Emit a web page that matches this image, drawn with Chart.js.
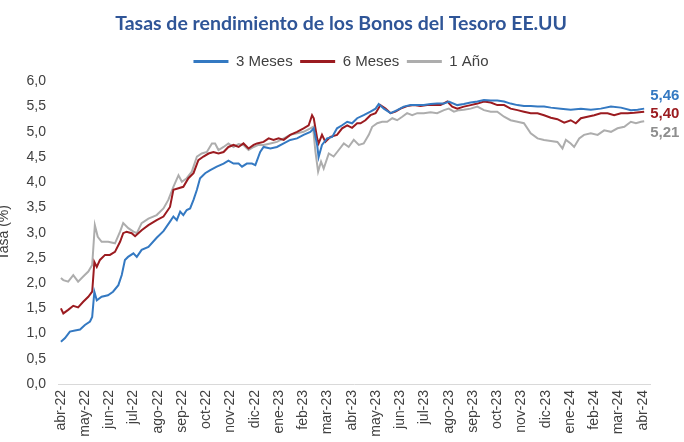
<!DOCTYPE html>
<html>
<head>
<meta charset="utf-8">
<script src="https://cdn.jsdelivr.net/npm/chart.js@4/dist/chart.umd.min.js"></script>
<style>
  html, body { margin: 0; padding: 0; background: #ffffff; overflow: hidden; }
  #wrap { width: 684px; height: 442px; }
</style>
</head>
<body>
<div id="wrap"><canvas id="c" width="684" height="442"></canvas></div>
<script>
// Month tick labels (x = months since 1 Apr 2022)
const monthLabels = ['abr-22','may-22','jun-22','jul-22','ago-22','sep-22','oct-22','nov-22','dic-22',
  'ene-23','feb-23','mar-23','abr-23','may-23','jun-23','jul-23','ago-23','sep-23','oct-23','nov-23',
  'dic-23','ene-24','feb-24','mar-24','abr-24'];
const seriesNames = ['3 Meses', '6 Meses', '1 Año'];

// 3 Meses
const t3 = [0.00,0.17,0.37,0.58,0.79,0.99,1.20,1.29,1.38,1.48,1.68,1.94,2.15,2.37,2.51,2.64,2.77,2.99,3.13,3.33,
  3.61,3.95,4.23,4.50,4.64,4.78,4.92,5.05,5.19,5.33,5.47,5.61,5.74,5.95,6.16,6.43,6.71,6.91,7.12,7.33,
  7.47,7.67,7.88,8.02,8.22,8.36,8.64,8.91,9.19,9.46,9.74,10.01,10.29,10.43,10.57,10.63,10.77,10.98,11.19,11.39,
  11.60,11.81,12.01,12.22,12.49,12.77,12.98,13.11,13.32,13.60,13.87,14.14,14.42,14.70,14.97,15.25,15.52,15.80,16.00,16.35,
  16.62,16.90,17.18,17.45,17.73,18.00,18.28,18.55,18.83,19.10,19.38,19.66,19.93,20.21,20.62,21.03,21.45,21.86,22.27,22.69,
  23.10,23.51,23.79,24.06];
const v3 = [0.84,0.91,1.04,1.06,1.08,1.17,1.24,1.33,1.83,1.66,1.73,1.76,1.83,1.96,2.16,2.46,2.52,2.59,2.52,2.66,
  2.72,2.90,3.03,3.22,3.32,3.25,3.42,3.35,3.45,3.48,3.65,3.85,4.08,4.18,4.24,4.31,4.37,4.43,4.37,4.37,
  4.31,4.37,4.37,4.34,4.60,4.70,4.67,4.70,4.77,4.84,4.87,4.94,5.00,5.07,4.74,4.50,4.74,4.87,4.90,5.07,
  5.13,5.20,5.17,5.27,5.33,5.40,5.46,5.55,5.46,5.37,5.43,5.50,5.53,5.53,5.53,5.55,5.56,5.56,5.60,5.53,
  5.55,5.58,5.60,5.63,5.62,5.62,5.60,5.56,5.53,5.51,5.51,5.50,5.50,5.48,5.46,5.44,5.46,5.44,5.46,5.50,
  5.48,5.43,5.44,5.46];

// 6 Meses
const t6 = [0.00,0.10,0.30,0.51,0.71,0.92,1.13,1.29,1.38,1.48,1.61,1.82,2.02,2.23,2.44,2.57,2.71,2.92,3.06,3.33,
  3.61,3.95,4.23,4.50,4.64,4.85,5.05,5.26,5.47,5.67,5.88,6.09,6.29,6.50,6.71,6.91,7.12,7.33,7.53,7.74,
  7.95,8.09,8.36,8.57,8.77,8.98,9.19,9.46,9.74,10.01,10.22,10.36,10.43,10.57,10.63,10.77,10.91,11.12,11.39,11.60,
  11.81,12.01,12.22,12.36,12.56,12.77,12.98,13.18,13.39,13.60,13.80,14.01,14.28,14.56,14.83,15.11,15.38,15.66,15.94,16.14,
  16.35,16.62,16.90,17.18,17.45,17.73,18.00,18.28,18.55,18.83,19.10,19.38,19.66,19.93,20.21,20.48,20.76,21.03,21.24,21.45,
  21.72,22.00,22.27,22.55,22.82,23.10,23.38,23.65,24.06];
const v6 = [1.50,1.40,1.47,1.55,1.52,1.63,1.73,1.83,2.42,2.32,2.46,2.56,2.56,2.62,2.82,2.99,3.02,2.99,2.93,3.05,
  3.15,3.25,3.32,3.51,3.85,3.88,3.91,4.08,4.18,4.44,4.51,4.57,4.60,4.57,4.60,4.70,4.74,4.70,4.77,4.67,
  4.74,4.77,4.80,4.87,4.84,4.87,4.84,4.94,5.00,5.07,5.13,5.33,5.27,4.87,4.77,4.94,4.80,4.90,4.94,5.07,
  5.13,5.08,5.17,5.17,5.23,5.33,5.37,5.53,5.46,5.37,5.40,5.46,5.51,5.53,5.51,5.53,5.53,5.53,5.60,5.50,
  5.46,5.50,5.53,5.56,5.60,5.58,5.53,5.53,5.46,5.43,5.40,5.37,5.37,5.33,5.28,5.25,5.18,5.23,5.17,5.27,
  5.30,5.33,5.37,5.37,5.33,5.37,5.37,5.38,5.40];

// 1 Año
const t1 = [0.00,0.10,0.30,0.51,0.71,0.92,1.13,1.29,1.40,1.52,1.68,1.95,2.23,2.44,2.57,2.78,2.99,3.13,3.33,3.61,
  3.95,4.23,4.43,4.64,4.85,4.99,5.19,5.40,5.61,5.81,6.02,6.23,6.36,6.50,6.71,6.91,7.12,7.33,7.53,7.74,
  7.95,8.15,8.36,8.64,8.91,9.19,9.46,9.74,10.01,10.29,10.40,10.50,10.61,10.73,10.84,11.05,11.25,11.46,11.67,11.87,
  12.08,12.29,12.49,12.70,12.84,13.05,13.25,13.46,13.67,13.87,14.08,14.28,14.49,14.70,14.97,15.25,15.52,15.80,16.00,16.21,
  16.42,16.62,16.90,17.18,17.45,17.73,18.00,18.28,18.55,18.83,19.10,19.38,19.66,19.93,20.21,20.48,20.69,20.83,21.03,21.17,
  21.38,21.58,21.86,22.14,22.41,22.69,22.96,23.24,23.51,23.72,23.93,24.06];
const v1 = [2.10,2.06,2.03,2.16,2.03,2.13,2.23,2.36,3.15,2.92,2.82,2.82,2.79,3.02,3.19,3.09,3.02,2.99,3.19,3.28,
  3.35,3.48,3.65,3.91,4.14,4.01,4.08,4.21,4.51,4.57,4.60,4.77,4.77,4.64,4.70,4.77,4.70,4.76,4.74,4.64,
  4.70,4.74,4.74,4.77,4.80,4.87,4.94,4.97,5.00,5.07,5.10,4.60,4.21,4.41,4.27,4.57,4.51,4.64,4.77,4.70,
  4.84,4.74,4.77,4.94,5.10,5.17,5.20,5.20,5.27,5.23,5.30,5.37,5.33,5.37,5.37,5.39,5.37,5.43,5.46,5.40,
  5.43,5.44,5.46,5.50,5.43,5.40,5.40,5.30,5.23,5.20,5.17,4.97,4.87,4.84,4.82,4.80,4.67,4.84,4.77,4.70,
  4.87,4.94,4.97,4.94,5.03,5.00,5.07,5.10,5.20,5.17,5.20,5.21];

const colors = ['#3479C2', '#9B1B20', '#ADADAD'];
const labelColors = ['#3479C2', '#9B1B20', '#8E8E8E'];
const endLabelOffsets = [-13, 2, 12];
const yTitleText = 'Tasa (%)';

const toPoints = (t, v) => t.map((x, i) => ({ x: x, y: v[i] }));
const fmt = v => v.toFixed(2).replace('.', ',');
const fontFam = '"Liberation Sans", Arial, sans-serif';

const endLabels = {
  id: 'endLabels',
  afterDatasetsDraw(chart) {
    const ctx = chart.ctx;
    ctx.save();
    ctx.font = 'bold 15px ' + fontFam;
    ctx.textAlign = 'left';
    ctx.textBaseline = 'middle';
    chart.data.datasets.forEach((ds, i) => {
      const meta = chart.getDatasetMeta(i);
      const pt = meta.data[meta.data.length - 1];
      const last = ds.data[ds.data.length - 1].y;
      ctx.fillStyle = labelColors[i];
      ctx.fillText(fmt(last), pt.x + 6, pt.y + endLabelOffsets[i]);
    });
    ctx.restore();
  }
};

const yTitle = {
  id: 'yTitle',
  afterDraw(chart) {
    const ctx = chart.ctx;
    const a = chart.chartArea;
    ctx.save();
    ctx.translate(4, (a.top + a.bottom) / 2);
    ctx.rotate(-Math.PI / 2);
    ctx.font = '14px ' + fontFam;
    ctx.fillStyle = '#404040';
    ctx.textAlign = 'center';
    ctx.textBaseline = 'middle';
    ctx.fillText(yTitleText, 0, 0);
    ctx.restore();
  }
};

// nudge title and legend (centre them like the original, legend slightly up)
const headerShift = {
  id: 'headerShift',
  afterLayout(chart) {
    [chart.titleBlock, chart.legend].forEach(b => { if (b) { b.left += 16; b.right += 16; } });
    if (chart.legend) { chart.legend.top -= 2.5; chart.legend.bottom -= 2.5; }
  }
};

new Chart(document.getElementById('c'), {
  type: 'line',
  data: {
    datasets: [
      { label: seriesNames[0], data: toPoints(t3, v3), borderColor: colors[0], backgroundColor: colors[0] },
      { label: seriesNames[1], data: toPoints(t6, v6), borderColor: colors[1], backgroundColor: colors[1] },
      { label: seriesNames[2], data: toPoints(t1, v1), borderColor: colors[2], backgroundColor: colors[2] }
    ]
  },
  options: {
    responsive: false,
    animation: false,
    devicePixelRatio: 1,
    layout: { padding: { left: 0, right: 34, top: 1, bottom: 0 } },
    elements: {
      line: { borderWidth: 2, tension: 0 },
      point: { radius: 0, hoverRadius: 0 }
    },
    plugins: {
      title: {
        display: true,
        text: 'Tasas de rendimiento de los Bonos del Tesoro EE.UU',
        color: '#2F5597',
        font: { family: 'Lato, "Open Sans", sans-serif', size: 19.5, weight: 'bold' },
        padding: { top: 11, bottom: 13.5 }
      },
      legend: {
        display: true,
        labels: {
          usePointStyle: true,
          pointStyle: 'line',
          pointStyleWidth: 35,
          color: '#404040',
          font: { family: fontFam, size: 15 },
          padding: 7.5,
          generateLabels: chart => Chart.defaults.plugins.legend.labels.generateLabels(chart)
            .map(l => Object.assign(l, { lineWidth: 3 }))
        }
      },
      tooltip: { enabled: false }
    },
    scales: {
      x: {
        type: 'linear',
        min: -0.12,
        max: 24.3,
        afterFit: s => { s.height = 58; },
        afterBuildTicks: s => { s.ticks = monthLabels.map((_, i) => ({ value: i })); },
        grid: { display: false, drawTicks: false },
        border: { display: true, color: '#D9D9D9', width: 1 },
        ticks: {
          autoSkip: false,
          minRotation: 90,
          maxRotation: 90,
          padding: 6,
          color: '#404040',
          font: { family: fontFam, size: 14 },
          callback: v => monthLabels[v] ?? ''
        }
      },
      y: {
        min: 0,
        max: 6,
        afterFit: s => { s.width = 58; },
        grid: { display: false, drawTicks: false },
        border: { display: false },
        ticks: {
          stepSize: 0.5,
          padding: 12,
          color: '#404040',
          font: { family: fontFam, size: 14 },
          callback: v => v.toFixed(1).replace('.', ',')
        }
      }
    }
  },
  plugins: [endLabels, yTitle, headerShift]
});
</script>
</body>
</html>
